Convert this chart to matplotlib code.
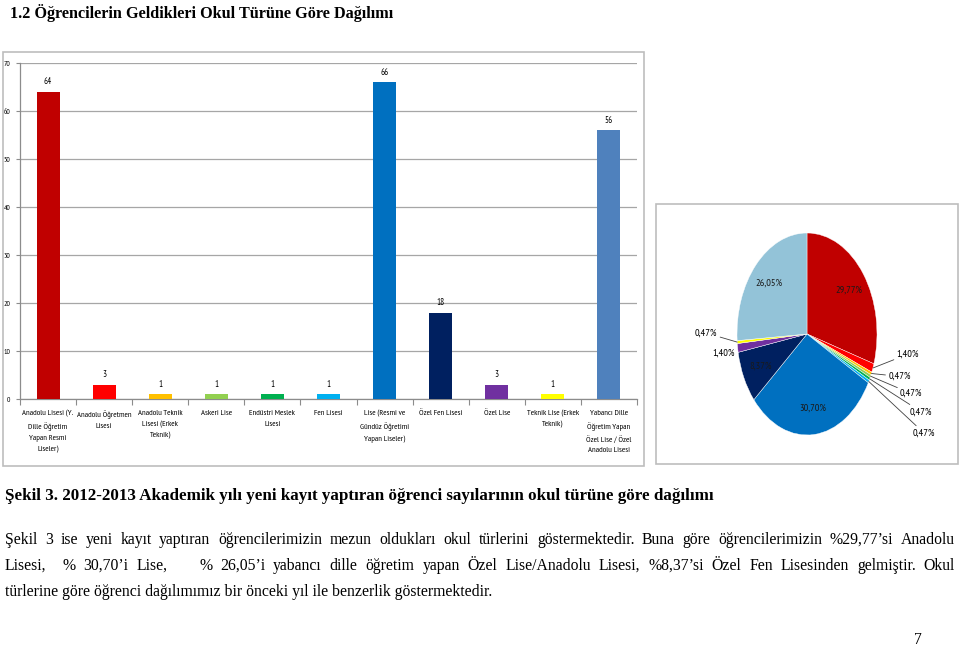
import numpy as np
import matplotlib
matplotlib.use("Agg")
import matplotlib.pyplot as plt
from matplotlib.patches import Rectangle

# --- veri ---
categories = [
    "Anadolu Lisesi (Y.\nDille Öğretim\nYapan Resmi\nLiseler)",
    "Anadolu Öğretmen\nLisesi",
    "Anadolu Teknik\nLisesi (Erkek\nTeknik)",
    "Askeri Lise",
    "Endüstri Meslek\nLisesi",
    "Fen Lisesi",
    "Lise (Resmi ve\nGündüz Öğretimi\nYapan Liseler)",
    "Özel Fen Lisesi",
    "Özel Lise",
    "Teknik Lise (Erkek\nTeknik)",
    "Yabancı Dille\nÖğretim Yapan\nÖzel Lise / Özel\nAnadolu Lisesi",
]
counts = [64, 3, 1, 1, 1, 1, 66, 18, 3, 1, 56]
bar_colors = ["#C00000", "#FF0000", "#FFC000", "#92D050", "#00B050", "#00B0F0",
              "#0070C0", "#002060", "#7030A0", "#FFFF00", "#4F81BD"]
pie_colors = bar_colors[:-1] + ["#93C3D8"]
y_ticks = [0, 10, 20, 30, 40, 50, 60, 70]

title = "1.2 Öğrencilerin Geldikleri Okul Türüne Göre Dağılımı"
caption = ("Şekil 3. 2012-2013 Akademik yılı yeni kayıt yaptıran öğrenci "
           "sayılarının okul türüne göre dağılımı")
para_lines = [
    "Şekil 3 ise yeni kayıt yaptıran öğrencilerimizin mezun oldukları okul türlerini "
    "göstermektedir. Buna göre öğrencilerimizin %29,77’si Anadolu",
    "Lisesi,  % 30,70’i Lise,    % 26,05’i yabancı dille öğretim yapan Özel Lise/Anadolu "
    "Lisesi, %8,37’si Özel Fen Lisesinden gelmiştir. Okul",
    "türlerine göre öğrenci dağılımımız bir önceki yıl ile benzerlik göstermektedir.",
]

W, H = 960, 647
NARROW = ["PT Sans Narrow", "DejaVu Sans"]
SERIF = ["Liberation Serif", "DejaVu Serif"]


def fx(px):
    return px / W


def fy(py):
    return 1 - py / H


fig = plt.figure(figsize=(W / 100, H / 100), dpi=100)
renderer = fig.canvas.get_renderer()

# çerçeveler
for x0, y0, x1, y1 in [(3, 52, 644, 466), (656, 204, 958, 464)]:
    fig.patches.append(Rectangle((fx(x0), fy(y1)), fx(x1) - fx(x0), (y1 - y0) / H,
                                 transform=fig.transFigure, fill=False,
                                 edgecolor="#BDBDBD", linewidth=1.2))

# --- sütun grafiği ---
ax = fig.add_axes([fx(20), fy(399), fx(637) - fx(20), (399 - 63) / H])
x = np.arange(len(counts))
bars = ax.bar(x, counts, width=0.41, color=bar_colors, zorder=3)
ax.set_xlim(-0.5, len(counts) - 0.5)
ax.set_ylim(0, 70)
ax.set_yticks(y_ticks)
ax.set_yticklabels([str(v) for v in y_ticks], family=NARROW, fontsize=5.5)
ax.grid(axis="y", color="#A6A6A6", linewidth=0.9, zorder=0)
for s in ["top", "right"]:
    ax.spines[s].set_visible(False)
for s in ["left", "bottom"]:
    ax.spines[s].set_color("#8C8C8C")
    ax.spines[s].set_linewidth(0.9)
ax.set_xticks(x)
ax.set_xticklabels(categories, family=NARROW, fontsize=6, linespacing=1.75, va="top")
ax.tick_params(axis="x", which="major", length=0, pad=8)
ax.set_xticks(np.arange(-0.5, len(counts)), minor=True)
ax.tick_params(axis="x", which="minor", length=4, color="#8C8C8C", width=0.8)
ax.tick_params(axis="y", length=3, color="#8C8C8C", width=0.8, pad=4)
for b, v in zip(bars, counts):
    ax.annotate(str(v), (b.get_x() + b.get_width() / 2, v), xytext=(0, 4),
                textcoords="offset points", ha="center", va="bottom",
                family=NARROW, fontsize=6.5)

# --- pasta grafiği ---
ax2 = fig.add_axes([fx(737), fy(435), 140 / W, 202 / H])
wedges, _ = ax2.pie(counts, colors=pie_colors, startangle=90, counterclock=False,
                    wedgeprops=dict(linewidth=0.3, edgecolor="white"))
ax2.set_aspect("auto")
ax2.set_xlim(-1, 1)
ax2.set_ylim(-1, 1)
ax2.axis("off")

total = sum(counts)
pct_labels = [f"{c / total * 100:.2f}".replace(".", ",") + "%" for c in counts]
# dış etiketlerin yerleri (pasta koordinatları) ve hizaları
outside = {1: (1.28, -0.20, "left"), 2: (1.16, -0.42, "left"), 3: (1.33, -0.59, "left"),
           4: (1.47, -0.77, "left"), 5: (1.51, -0.98, "left"),
           8: (-1.03, -0.19, "right"), 9: (-1.28, 0.01, "right")}
for i, (w, lab) in enumerate(zip(wedges, pct_labels)):
    mid = np.deg2rad((w.theta1 + w.theta2) / 2)
    if i in outside:
        tx, ty, ha = outside[i]
        arrow = None if i == 8 else dict(arrowstyle="-", color="#404040", lw=0.6,
                                         shrinkA=0, shrinkB=0)
        ax2.annotate(lab, (np.cos(mid), np.sin(mid)), xytext=(tx, ty), ha=ha, va="center",
                     family=NARROW, fontsize=7.5, arrowprops=arrow, annotation_clip=False)
    else:
        r = 0.74
        ax2.text(r * np.cos(mid), r * np.sin(mid), lab, ha="center", va="center",
                 family=NARROW, fontsize=7.5, color="#1A1A1A")


# --- metinler ---
def fit_text(txt, x0, width, y, **kw):
    t = fig.text(fx(x0), fy(y), txt, ha="left", va="center", **kw)
    size = t.get_fontsize()
    w = t.get_window_extent(renderer).width
    t.set_fontsize(size * width / w)
    return t


fit_text(title, 10, 385, 13, family=SERIF, weight="bold", fontsize=12)
fit_text(caption, 5, 708, 496, family=SERIF, weight="bold", fontsize=12)
last = fit_text(para_lines[2], 5, 487, 592, family=SERIF, fontsize=12)
psize = last.get_fontsize()


def justify(txt, x0, x1, y):
    words = txt.split(" ")
    objs = [fig.text(0, fy(y), wd, ha="left", va="center", family=SERIF, fontsize=psize)
            for wd in words]
    widths = [o.get_window_extent(renderer).width if o.get_text() else 0 for o in objs]
    gap = (x1 - x0 - sum(widths)) / (len(words) - 1)
    xp = x0
    for o, wd in zip(objs, widths):
        o.set_x(fx(xp))
        xp += wd + gap


justify(para_lines[0], 5, 955, 540)
justify(para_lines[1], 5, 955, 566)
fig.text(fx(918), fy(640), "7", ha="center", va="center", family=SERIF, fontsize=psize)

fig.savefig("out.png", dpi=100)
